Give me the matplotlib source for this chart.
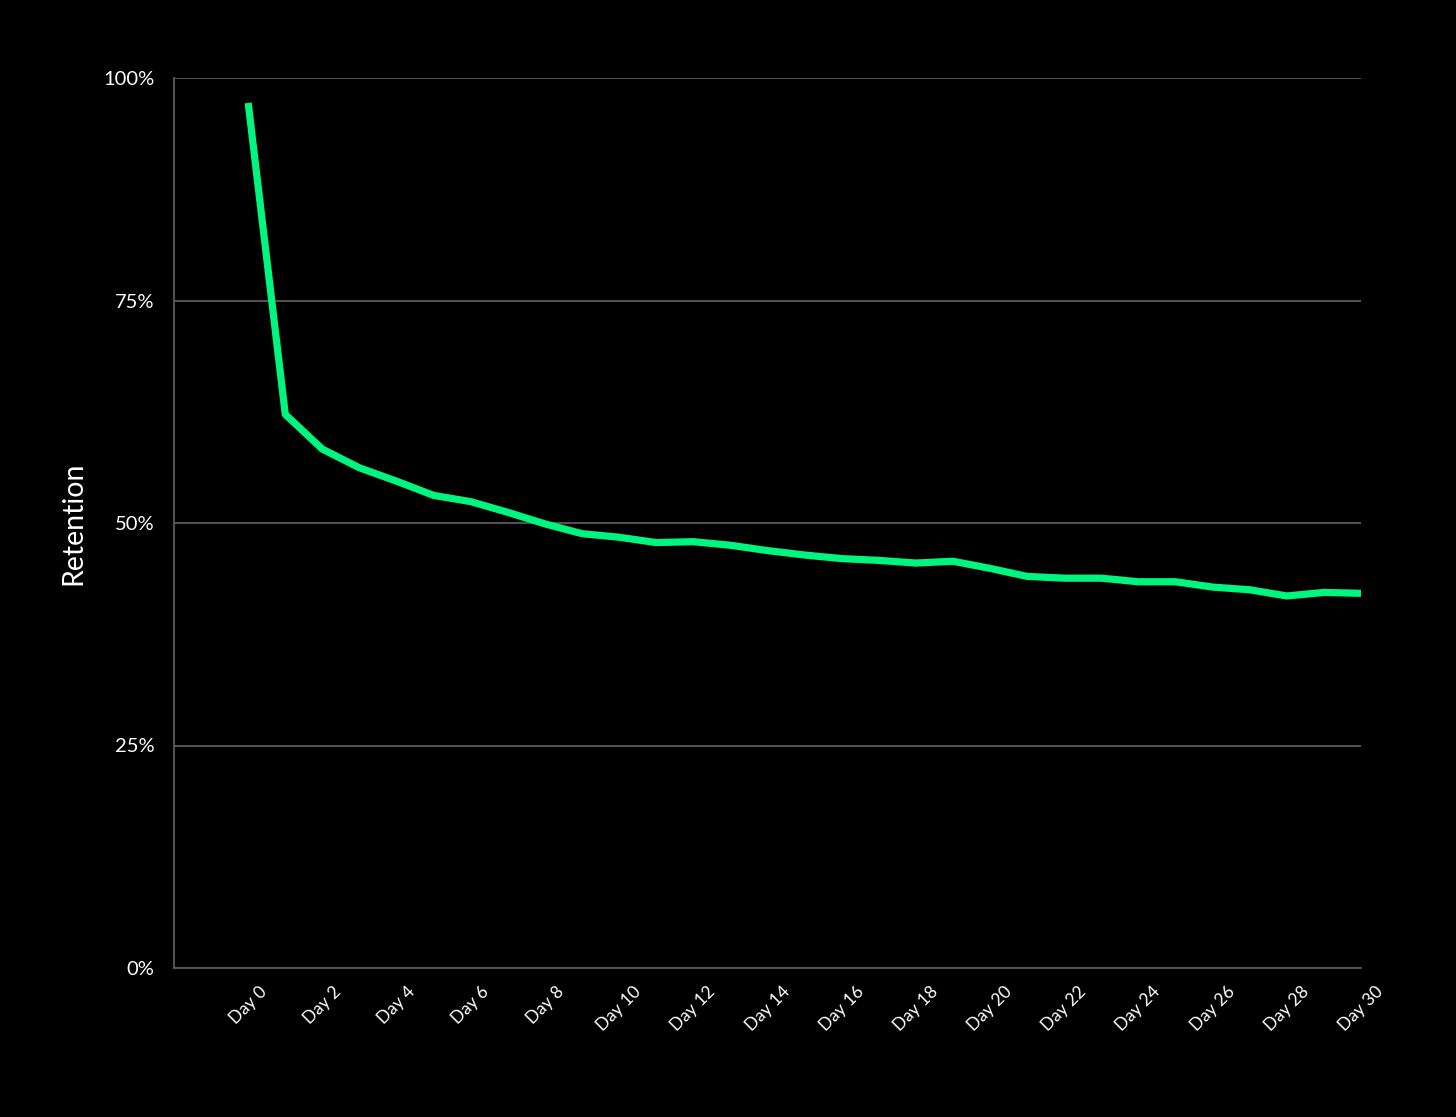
import matplotlib
matplotlib.use("Agg")
import matplotlib.pyplot as plt

days = list(range(0, 31))
retention = [97.2, 62.2, 58.3, 56.2, 54.7, 53.1, 52.4, 51.2, 49.9, 48.8,
             48.4, 47.8, 47.9, 47.5, 46.9, 46.4, 46.0, 45.8, 45.5, 45.7,
             44.9, 44.0, 43.8, 43.8, 43.4, 43.4, 42.8, 42.5, 41.8, 42.2, 42.1]
x_ticks = list(range(0, 31, 2))
x_labels = [f"Day {d}" for d in x_ticks]
y_ticks = [0, 25, 50, 75, 100]
y_labels = [f"{v}%" for v in y_ticks]

plt.rcParams['font.family'] = ['Lato', 'DejaVu Sans']

fig = plt.figure(figsize=(14.56, 11.17), dpi=100, facecolor='black')
ax = fig.add_axes([174/1456, 1-968/1117, (1361-174)/1456, (968-78)/1117])
ax.set_facecolor('black')

ax.plot(days, retention, color='#00F57F', lw=5.2, solid_capstyle='butt', zorder=3)

ax.set_xlim(-2, 30)
ax.set_ylim(0, 100)
ax.set_yticks(y_ticks)
ax.set_yticklabels(y_labels)
ax.set_xticks(x_ticks)
ax.set_xticklabels(x_labels, rotation=45, ha='center')

ax.grid(axis='y', color='#5a5a5a', lw=1.3)
ax.set_axisbelow(True)
for s in ['top', 'right']:
    ax.spines[s].set_visible(False)
for s in ['left', 'bottom']:
    ax.spines[s].set_color('#5a5a5a')
    ax.spines[s].set_linewidth(1.3)

ax.tick_params(axis='both', length=0, colors='white')
ax.tick_params(axis='x', pad=11, labelsize=12.5)
ax.tick_params(axis='y', pad=14, labelsize=14.5)

ax.set_ylabel('Retention', color='white', fontsize=20.5, labelpad=12)

fig.savefig('out.png', dpi=100, facecolor='black')
